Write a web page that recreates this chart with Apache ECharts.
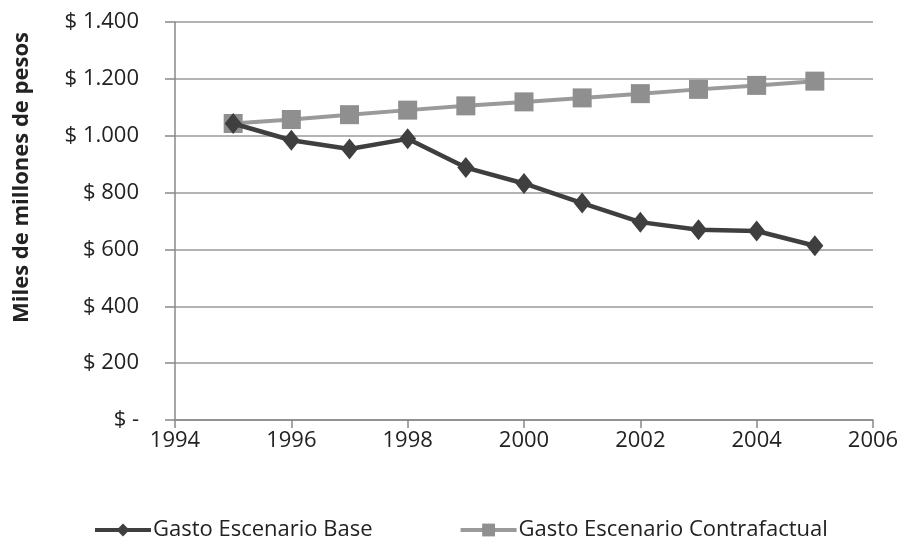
<!DOCTYPE html>
<html><head><meta charset="utf-8">
<script src="https://cdn.jsdelivr.net/npm/echarts@6/dist/echarts.min.js"></script>
<style>html,body{margin:0;padding:0;background:#fff}#c{width:904px;height:541px}</style>
</head><body><div id="c"></div>
<script>
const years = [1995,1996,1997,1998,1999,2000,2001,2002,2003,2004,2005];
const base = [1043,984,953,989,888,832,763,696,669,665,613];
const contra = [1043,1057,1074,1090,1105,1119,1133,1148,1163,1177,1192];
const seriesNames = ['Gasto Escenario Base','Gasto Escenario Contrafactual'];
const yAxisTitle = 'Miles de millones de pesos';

const font = '"Open Sans", sans-serif';
function fmtY(v){ if(v===0) return '$ -'; return '$ ' + String(v).replace(/\B(?=(\d{3})+(?!\d))/g,'.'); }
const chart = echarts.init(document.getElementById('c'));
chart.setOption({
  animation:false,
  backgroundColor:'#fff',
  textStyle:{fontFamily:font},
  grid:{left:175,right:31,top:22,bottom:121},
  legend:{top:514,left:88,itemGap:86,itemWidth:56,itemHeight:16,
    lineStyle:{width:4},
    textStyle:{fontSize:22,color:'#222',fontFamily:font,padding:[0,0,0,-3]},
    data:seriesNames},
  graphic:[{type:'text',left:11,top:32,rotation:Math.PI/2,
    style:{text:yAxisTitle,fontSize:22,fontWeight:'bold',fill:'#222',fontFamily:font}}],
  xAxis:{type:'value',min:1994,max:2006,interval:2,
    axisLine:{lineStyle:{color:'#888',width:1.5}},
    axisTick:{show:true,length:8,lineStyle:{color:'#888',width:1.5}},
    splitLine:{show:false},
    axisLabel:{fontSize:22,color:'#222',margin:10,fontFamily:font,formatter:v=>String(v)}},
  yAxis:{type:'value',min:0,max:1400,interval:200,
    axisLine:{show:true,lineStyle:{color:'#888',width:1.5}},
    axisTick:{show:true,length:10,lineStyle:{color:'#888',width:1.5}},
    splitLine:{lineStyle:{color:'#9a9a9a',width:1.5}},
    axisLabel:{fontSize:22,color:'#222',margin:36,formatter:fmtY,fontFamily:font}},
  series:[
    {name:seriesNames[1],type:'line',data:years.map((y,i)=>[y,contra[i]]),
      symbol:'rect',symbolSize:19,lineStyle:{color:'#9a9a9a',width:4},
      itemStyle:{color:'#8f8f8f'},z:2},
    {name:seriesNames[0],type:'line',data:years.map((y,i)=>[y,base[i]]),
      symbol:'diamond',symbolSize:[17,21],lineStyle:{color:'#3f3f3f',width:4.5},
      itemStyle:{color:'#3f3f3f'},z:3}
  ]
});
</script></body></html>
